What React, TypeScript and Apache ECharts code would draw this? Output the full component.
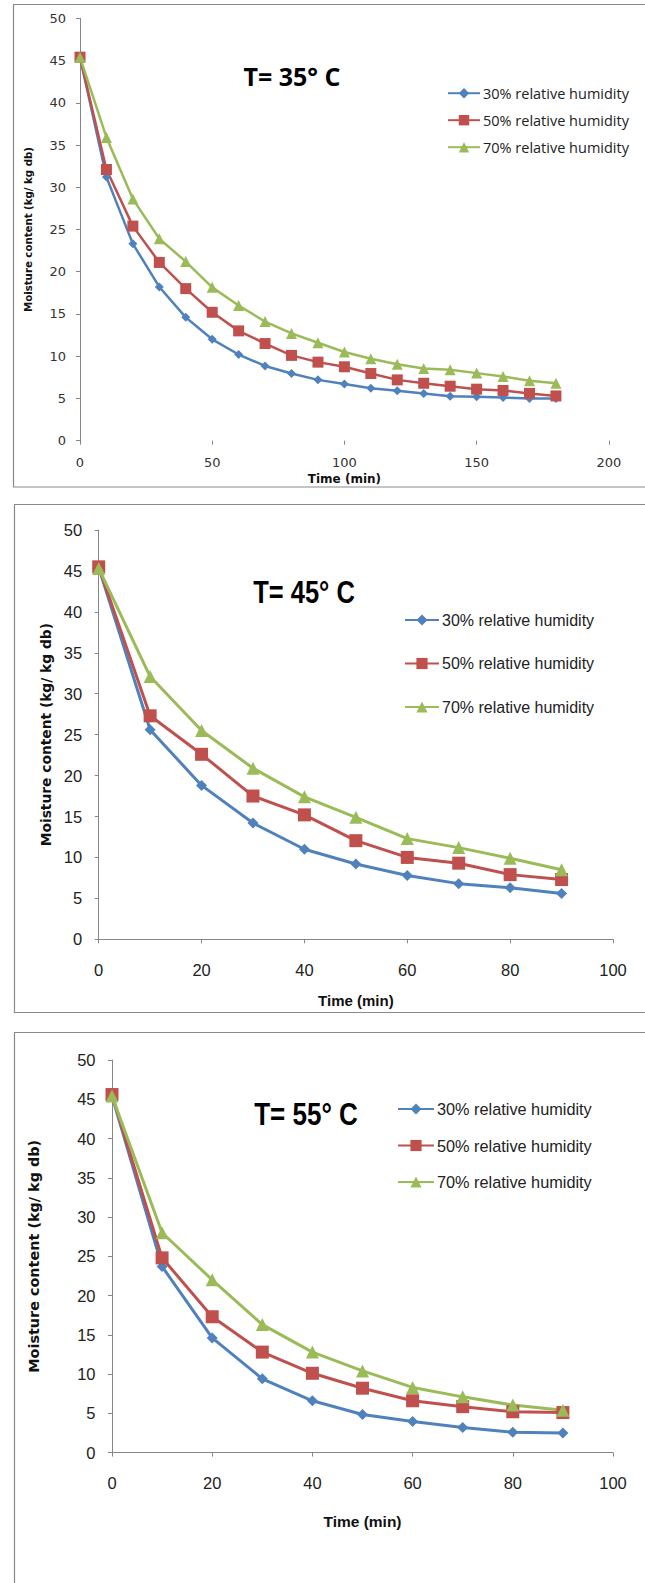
import React, { useEffect, useRef } from "react";
import * as echarts from "echarts";

// ---------- data ----------
const seriesNames = ["30% relative humidity", "50% relative humidity", "70% relative humidity"];
const panelTitles = ["T= 35° C", "T= 45° C", "T= 55° C"];
const xAxisName = "Time (min)";
const yAxisName = "Moisture content (kg/ kg db)";

const time35 = [0, 10, 20, 30, 40, 50, 60, 70, 80, 90, 100, 110, 120, 130, 140, 150, 160, 170, 180];
const rh30_35 = [45.4, 31.2, 23.3, 18.2, 14.6, 12.0, 10.2, 8.85, 7.95, 7.2, 6.7, 6.2, 5.9, 5.6, 5.25, 5.2, 5.1, 5.0, 5.0];
const rh50_35 = [45.4, 32.1, 25.4, 21.1, 18.0, 15.2, 13.0, 11.5, 10.1, 9.3, 8.75, 7.95, 7.2, 6.8, 6.45, 6.1, 5.95, 5.6, 5.3];
const rh70_35 = [45.4, 35.9, 28.6, 23.9, 21.2, 18.15, 16.0, 14.1, 12.7, 11.6, 10.5, 9.7, 9.05, 8.55, 8.4, 8.0, 7.6, 7.1, 6.8];

const time45 = [0, 10, 20, 30, 40, 50, 60, 70, 80, 90];
const rh30_45 = [45.4, 25.6, 18.8, 14.2, 11.0, 9.2, 7.8, 6.8, 6.3, 5.6];
const rh50_45 = [45.5, 27.3, 22.6, 17.5, 15.2, 12.05, 10.0, 9.3, 7.9, 7.3];
const rh70_45 = [45.3, 32.1, 25.5, 20.9, 17.4, 14.9, 12.3, 11.2, 9.9, 8.5];

const time55 = [0, 10, 20, 30, 40, 50, 60, 70, 80, 90];
const rh30_55 = [45.4, 23.7, 14.6, 9.4, 6.6, 4.85, 3.95, 3.2, 2.6, 2.5];
const rh50_55 = [45.6, 24.8, 17.3, 12.8, 10.1, 8.2, 6.6, 5.85, 5.2, 5.1];
const rh70_55 = [45.4, 28.0, 22.0, 16.3, 12.8, 10.4, 8.3, 7.1, 6.05, 5.4];

const yTicks = { min: 0, max: 50, interval: 5 };
const xTicks35 = { min: 0, max: 200, interval: 50 };
const xTicks4555 = { min: 0, max: 100, interval: 20 };

// ---------- styling ----------
const COLORS = ["#4F81BD", "#C0504D", "#9BBB59"];
const SYMBOLS = ["diamond", "rect", "triangle"];
const SANS = '"Liberation Sans", Arial, sans-serif';
const AXIS_GRAY = "#868686";

const panels = [
  {
    time: time35, values: [rh30_35, rh50_35, rh70_35], xt: xTicks35,
    grid: { left: 80, top: 18.3, width: 528.8, height: 422.4 },
    showXLine: false,
    labelFont: { fontFamily: "DejaVu Sans", fontSize: 13, color: "#333" },
    yLabelMargin: 14, xLabelMargin: 15,
    yName: { fontFamily: "DejaVu Sans", fontWeight: "bold", fontSize: 10.2, color: "#111" }, yNameGap: 47,
    xName: { fontFamily: "DejaVu Sans", fontWeight: "bold", fontSize: 12, color: "#111" }, xNameGap: 32,
    symbolSizes: [9, 11, 11], lineWidth: 2.5,
    legend: { left: 447, top: 85.7, itemWidth: 32, itemHeight: 13, itemGap: 12, lineHeight: 13.6,
      font: { fontFamily: "Open Sans", fontSize: 14.5, color: "#222" }, textGap: 3 },
    title: { x: 292, y: 76, font: '"Open Sans"', size: 25, scaleY: 1 },
    frame: { x: 13.5, y: 4.5, w: 660, h: 482.5 },
  },
  {
    time: time45, values: [rh30_45, rh50_45, rh70_45], xt: xTicks4555,
    grid: { left: 98.7, top: 530, width: 514.3, height: 409.3 },
    showXLine: true,
    labelFont: { fontFamily: SANS, fontSize: 16.5, color: "#222" },
    yLabelMargin: 16.5, xLabelMargin: 22.5,
    yName: { fontFamily: "DejaVu Sans", fontWeight: "bold", fontSize: 13.8, color: "#111" }, yNameGap: 45,
    xName: { fontFamily: SANS, fontWeight: "bold", fontSize: 15, color: "#111" }, xNameGap: 53.5,
    symbolSizes: [11, 13, 13], lineWidth: 3,
    legend: { left: 404, top: 611, itemWidth: 34, itemHeight: 14, itemGap: 25.5, lineHeight: 18,
      font: { fontFamily: SANS, fontSize: 16, color: "#222" }, textGap: 3 },
    title: { x: 304, y: 593, font: SANS, size: 25.5, scaleY: 1.2 },
    frame: { x: 14.5, y: 504.5, w: 660, h: 508 },
  },
  {
    time: time55, values: [rh30_55, rh50_55, rh70_55], xt: xTicks4555,
    grid: { left: 112, top: 1060, width: 501, height: 392.6 },
    showXLine: true,
    labelFont: { fontFamily: SANS, fontSize: 16.5, color: "#222" },
    yLabelMargin: 16.5, xLabelMargin: 21.7,
    yName: { fontFamily: "DejaVu Sans", fontWeight: "bold", fontSize: 14.4, color: "#111" }, yNameGap: 71,
    xName: { fontFamily: SANS, fontWeight: "bold", fontSize: 15.5, color: "#111" }, xNameGap: 61,
    symbolSizes: [11, 13, 13], lineWidth: 3,
    legend: { left: 397, top: 1100, itemWidth: 36, itemHeight: 14, itemGap: 18.5, lineHeight: 18,
      font: { fontFamily: SANS, fontSize: 16.3, color: "#222" }, textGap: 3 },
    title: { x: 306, y: 1114, font: SANS, size: 26, scaleY: 1.2 },
    frame: { x: 14.5, y: 1032.5, w: 660, h: 600 },
  },
];

function buildOption() {
  const grid: any[] = [];
  const xAxis: any[] = [];
  const yAxis: any[] = [];
  const series: any[] = [];
  const legend: any[] = [];
  const graphic: any[] = [];

  panels.forEach((p, i) => {
    grid.push({ ...p.grid, containLabel: false });
    xAxis.push({
      type: "value", gridIndex: i, min: p.xt.min, max: p.xt.max, interval: p.xt.interval,
      name: xAxisName, nameLocation: "middle", nameGap: p.xNameGap, nameTextStyle: p.xName,
      axisLine: { show: p.showXLine, onZero: false, lineStyle: { color: AXIS_GRAY, width: 1 } },
      axisTick: { show: true, inside: false, length: 4, lineStyle: { color: AXIS_GRAY } },
      axisLabel: { ...p.labelFont, margin: p.xLabelMargin },
      splitLine: { show: false },
    });
    yAxis.push({
      type: "value", gridIndex: i, min: yTicks.min, max: yTicks.max, interval: yTicks.interval,
      name: yAxisName, nameLocation: "middle", nameGap: p.yNameGap, nameTextStyle: p.yName,
      axisLine: { show: true, lineStyle: { color: AXIS_GRAY, width: 1 } },
      axisTick: { show: true, inside: false, length: 4, lineStyle: { color: AXIS_GRAY } },
      axisLabel: { ...p.labelFont, margin: p.yLabelMargin },
      splitLine: { show: false },
    });
    p.values.forEach((vals, k) => {
      series.push({
        type: "line", name: seriesNames[k], xAxisIndex: i, yAxisIndex: i,
        data: p.time.map((t, j) => [t, vals[j]]),
        symbol: SYMBOLS[k], symbolSize: p.symbolSizes[k], showAllSymbol: true,
        itemStyle: { color: COLORS[k] },
        lineStyle: { color: COLORS[k], width: p.lineWidth },
        emphasis: { disabled: true },
      });
    });
    legend.push({
      orient: "vertical", left: p.legend.left, top: p.legend.top, padding: 0,
      itemWidth: p.legend.itemWidth, itemHeight: p.legend.itemHeight, itemGap: p.legend.itemGap,
      textStyle: { ...p.legend.font, lineHeight: p.legend.lineHeight, padding: [0, 0, 0, p.legend.textGap - 5] },
      data: seriesNames, selectedMode: false,
    });
    graphic.push({
      type: "rect", silent: true, z: -10,
      shape: { x: p.frame.x, y: p.frame.y, width: p.frame.w, height: p.frame.h },
      style: { fill: "none", stroke: "#8a8a8a", lineWidth: 1.2 },
    });
    graphic.push({
      type: "text", silent: true, x: p.title.x, y: p.title.y, scaleY: p.title.scaleY,
      style: {
        text: panelTitles[i], fontFamily: p.title.font, fontWeight: "bold", fontSize: p.title.size,
        fill: "#000", align: "center", verticalAlign: "middle",
      },
    });
  });

  return { animation: false, backgroundColor: "#fff", grid, xAxis, yAxis, series, legend, graphic };
}

export default function App() {
  const ref = useRef<HTMLDivElement>(null);
  useEffect(() => {
    if (!ref.current) return;
    const chart = echarts.init(ref.current, undefined, { renderer: "svg" });
    chart.setOption(buildOption() as any);
    return () => chart.dispose();
  }, []);
  return (
    <div
      ref={ref}
      style={{ position: "absolute", left: 0, top: 0, width: 645, height: 1583, background: "#fff" }}
    />
  );
}
